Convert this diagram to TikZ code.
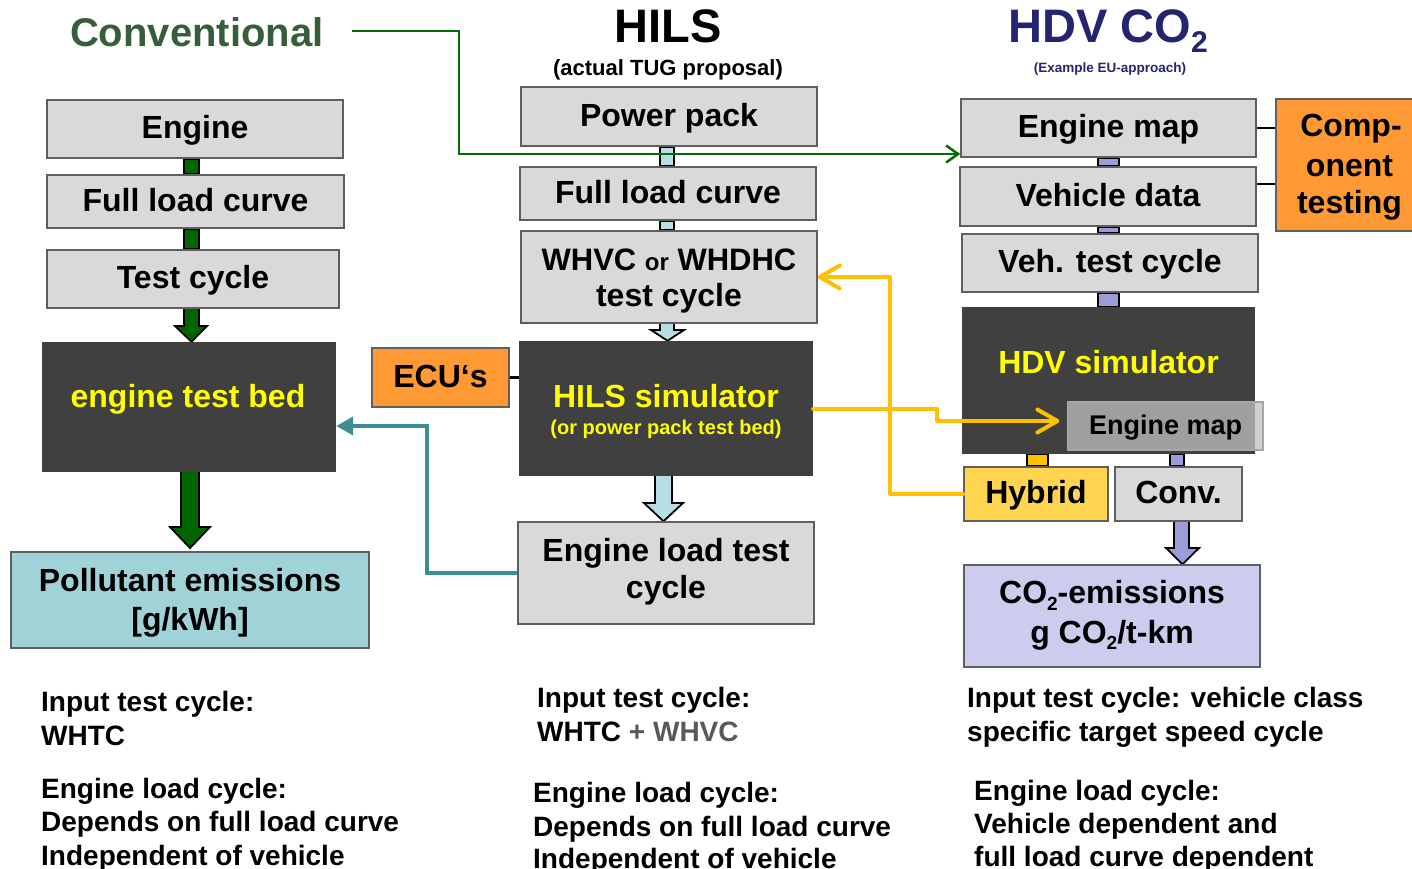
\documentclass[tikz,border=0pt]{standalone}
\usepackage{fontspec}
\setmainfont{Liberation Sans}
\usetikzlibrary{arrows.meta,calc}
\newcommand\myfs[1]{\fontsize{#1}{#1}\selectfont}
\definecolor{boxgray}{RGB}{217,217,217}
\definecolor{bordergray}{RGB}{95,95,95}
\definecolor{darkfill}{RGB}{64,64,64}
\definecolor{ytext}{RGB}{255,255,0}
\definecolor{corange}{RGB}{255,153,51}
\definecolor{cteal}{RGB}{160,211,216}
\definecolor{cltblue}{RGB}{183,222,228}
\definecolor{cpurple}{RGB}{157,156,219}
\definecolor{clavender}{RGB}{204,204,238}
\definecolor{chybrid}{RGB}{255,212,80}
\definecolor{cyellow}{RGB}{255,192,0}
\definecolor{cgreenbar}{RGB}{0,100,0}
\definecolor{cgreenline}{RGB}{0,110,0}
\definecolor{ctitlegreen}{RGB}{55,94,58}
\definecolor{cnavy}{RGB}{36,36,112}
\definecolor{clteal}{RGB}{62,141,147}
\definecolor{cgraytxt}{RGB}{89,89,89}
\definecolor{emapfill}{RGB}{192,192,192}
\pgfdeclarelayer{bg}
\pgfsetlayers{bg,main}
\begin{document}
\begin{tikzpicture}[x=1pt,y=-1pt,
  box/.style={draw=bordergray, line width=1.5pt, fill=boxgray, inner sep=0pt,
    font=\bfseries\myfs{32}, text height=22.9pt, text depth=3.2pt},
  darkbox/.style={fill=darkfill, draw=none, inner sep=0pt},
  txt/.style={inner sep=0pt, anchor=base, font=\bfseries\myfs{32}},
  ytxt/.style={txt, text=ytext},
  btxt/.style={inner sep=0pt, anchor=base west, font=\bfseries\myfs{28}},
  bar/.style={draw=black, line width=1.8pt, line join=miter},
  blk/.style={draw=black, line width=2.5pt},
  gline/.style={draw=cgreenline, line width=2.5pt, -{Straight Barb[length=12pt,width=17pt,line width=2.5pt]}},
  yline/.style={draw=cyellow, line width=4pt, line cap=round, line join=round, -{Straight Barb[length=20pt,width=23pt,line width=4pt,round]}},
  tline/.style={draw=clteal, line width=4pt, -{Triangle[length=17pt,width=18pt]}}
]
\useasboundingbox (0,0) rectangle (1412,869);

% ---------- titles ----------
\node[txt, font=\bfseries\myfs{40}, text=ctitlegreen] (tconv) at (196.7,47) {Conventional};
\node[txt, font=\bfseries\myfs{47}] (thils) at (668,43) {HILS};
\node[txt, font=\bfseries\myfs{22}] (thils2) at (668,76) {(actual TUG proposal)};
\node[txt, anchor=base west, font=\bfseries\myfs{47}, text=cnavy] (thdv) at (1008,43) {HDV CO\raisebox{-10pt}{\myfs{30}2}};
\node[txt, font=\bfseries\myfs{13.5}, text=cnavy] (thdv2) at (1110,73) {(Example EU-approach)};

% ---------- left column ----------
\node[box, minimum width=296pt, minimum height=58pt] (engL) at (195,129) {Engine};
\node[box, minimum width=297pt, minimum height=53pt] (fullL) at (195.5,201.5) {Full load curve};
\node[box, minimum width=292pt, minimum height=58pt] (testL) at (193,279) {Test cycle};
\node[darkbox, minimum width=294pt, minimum height=130pt] (bed) at (189,407) {};
\node[ytxt] (bedT) at (188,407) {engine test bed};
\node[box, fill=cteal, minimum width=358pt, minimum height=96pt, text height=, text depth=] (poll) at (190,600) {};
\node[txt] (pollT1) at (190,591) {Pollutant emissions};
\node[txt] (pollT2) at (190,630) {[g/kWh]};

% ---------- middle column ----------
\node[box, minimum width=296pt, minimum height=59pt] (pp) at (669,116.5) {Power pack};
\node[box, minimum width=296pt, minimum height=53pt] (fullM) at (668,193.5) {Full load curve};
\node[box, minimum width=296pt, minimum height=92pt] (whvc) at (669,277) {};
\node[txt, font=\bfseries\myfs{31}] (whvcT1) at (669,270) {WHVC {\myfs{24}or} WHDHC};
\node[txt] (whvcT2) at (669,306) {test cycle};
\node[darkbox, minimum width=294pt, minimum height=135pt] (hils) at (666,408.5) {};
\node[ytxt] (hilsT1) at (666,407.5) {HILS simulator};
\node[ytxt, font=\bfseries\myfs{20}] (hilsT2) at (666,434) {(or power pack test bed)};
\node[box, fill=corange, minimum width=137pt, minimum height=59pt] (ecu) at (440.5,377.5) {ECU‘s};
\node[box, minimum width=296pt, minimum height=102pt] (eload) at (666,573) {};
\node[txt] (eloadT1) at (666,561) {Engine load test};
\node[txt] (eloadT2) at (666,598) {cycle};

% ---------- right column ----------
\node[box, minimum width=295pt, minimum height=58pt] (engM) at (1108.5,128) {Engine map};
\node[box, minimum width=296pt, minimum height=59pt] (vdat) at (1108,196.5) {Vehicle data};
\node[box, minimum width=296pt, minimum height=58pt] (vtest) at (1110,263) {Veh. test cycle};
\node[box, fill=corange, minimum width=148pt, minimum height=132pt] (comp) at (1350,165) {};
\node[txt] (compT1) at (1351,137) {Comp-};
\node[txt] (compT2) at (1349.5,176) {onent};
\node[txt] (compT3) at (1349.5,213) {testing};
\node[darkbox, minimum width=293pt, minimum height=147pt] (hdv) at (1108.5,380.5) {};
\node[ytxt] (hdvT) at (1108.5,373) {HDV simulator};
\node[box, draw=gray!70, line width=1.2pt, fill=emapfill, fill opacity=0.75, text opacity=1,
  minimum width=195pt, minimum height=48pt, font=\bfseries\myfs{27}, text height=19.3pt, text depth=2.7pt] (emap) at (1165.5,426) {Engine map};
\node[box, fill=chybrid, minimum width=144pt, minimum height=54pt] (hyb) at (1036,494) {Hybrid};
\node[box, minimum width=127pt, minimum height=54pt] (conv) at (1178.5,494) {Conv.};
\node[box, fill=clavender, minimum width=296pt, minimum height=102pt] (co2) at (1112,616) {};
\node[txt] (co2T1) at (1112,603.5) {CO\raisebox{-6.5pt}{\myfs{19}2}-emissions};
\node[txt] (co2T2) at (1112,643) {g CO\raisebox{-6.5pt}{\myfs{19}2}/t-km};

% ---------- block connectors (behind boxes) ----------
\begin{pgfonlayer}{bg}
\draw[bar, fill=cgreenbar] (184,0 |- engL.south) rectangle (199,0 |- fullL.north);
\draw[bar, fill=cgreenbar] (184,0 |- fullL.south) rectangle (199,0 |- testL.north);
\draw[bar, fill=cgreenbar] (184,0 |- testL.south) -- (184,326) -- (175,326) -- (191.5,0 |- bed.north)
  -- (207,326) -- (199,326) -- (199,0 |- testL.south);
\draw[bar, fill=cgreenbar] (181,0 |- bed.south) -- (181,527) -- (170,527) -- (190,548)
  -- (210,527) -- (199,527) -- (199,0 |- bed.south);

\draw[bar, fill=cltblue] (660,0 |- pp.south) rectangle (674,0 |- fullM.north);
\draw[bar, fill=cltblue] (660,0 |- fullM.south) rectangle (674,0 |- whvc.north);
\draw[bar, fill=cltblue] (660,0 |- whvc.south) -- (660,330) -- (651,330) -- (667.5,0 |- hils.north)
  -- (684,330) -- (674,330) -- (674,0 |- whvc.south);
\draw[bar, fill=cltblue] (655,0 |- hils.south) -- (655,503) -- (644,503) -- (663.5,0 |- eload.north)
  -- (683,503) -- (672,503) -- (672,0 |- hils.south);

\draw[bar, fill=cpurple] (1098,0 |- engM.south) rectangle (1119,0 |- vdat.north);
\draw[bar, fill=cpurple] (1098,0 |- vdat.south) rectangle (1119,0 |- vtest.north);
\draw[bar, fill=cpurple] (1098,0 |- vtest.south) rectangle (1119,0 |- hdv.north);
\draw[bar, fill=cyellow] (1027,0 |- hdv.south) rectangle (1048,0 |- hyb.north);
\draw[bar, fill=cpurple] (1170,0 |- hdv.south) rectangle (1184,0 |- conv.north);
\draw[bar, fill=cpurple] (1174,0 |- conv.south) -- (1174,548) -- (1166,548) -- (1182.5,0 |- co2.north)
  -- (1199,548) -- (1189,548) -- (1189,0 |- conv.south);
\end{pgfonlayer}

% ---------- line connectors ----------
\coordinate (gstart) at (352,31);
\draw[gline] (gstart) -- (459,31) -- (459,154) -- (engM.west |- 0,154);
\draw[blk] (ecu.east) -- (ecu.east -| hils.west);
\draw[blk] (engM.east) -- (engM.east -| comp.west);
\draw[blk] (vdat.east |- 0,184) -- (comp.west |- 0,184);
\draw[tline] (eload.west) -- (427,0 |- eload.west) -- (427,426) -- (bed.east |- 0,426);
\draw[yline] (hyb.west) -- (890,0 |- hyb.west) -- (890,277) -- (whvc.east);
\draw[yline] (hils.east) -- (937,0 |- hils.east) -- (937,421) -- ($(emap.west)+(-8,-5)$);

% ---------- bottom notes ----------
\node[btxt] (l1) at (41,711) {Input test cycle:};
\node[btxt] (l2) at (41,745) {WHTC};
\node[btxt] (l3) at (41,798) {Engine load cycle:};
\node[btxt] (l4) at (41,831) {Depends on full load curve};
\node[btxt] (l5) at (41,865) {Independent of vehicle};

\node[btxt] (m1) at (537,707) {Input test cycle:};
\node[btxt] (m2) at (537,741) {WHTC \textcolor{cgraytxt}{+ WHVC}};
\node[btxt] (m3) at (533,802) {Engine load cycle:};
\node[btxt] (m4) at (533,836) {Depends on full load curve};
\node[btxt] (m5) at (533,868) {Independent of vehicle};

\node[btxt] (r1) at (967,707) {Input test cycle: vehicle class};
\node[btxt] (r2) at (967,741) {specific target speed cycle};
\node[btxt] (r3) at (974,800) {Engine load cycle:};
\node[btxt] (r4) at (974,833) {Vehicle dependent and};
\node[btxt] (r5) at (974,866) {full load curve dependent};
\end{tikzpicture}
\end{document}
